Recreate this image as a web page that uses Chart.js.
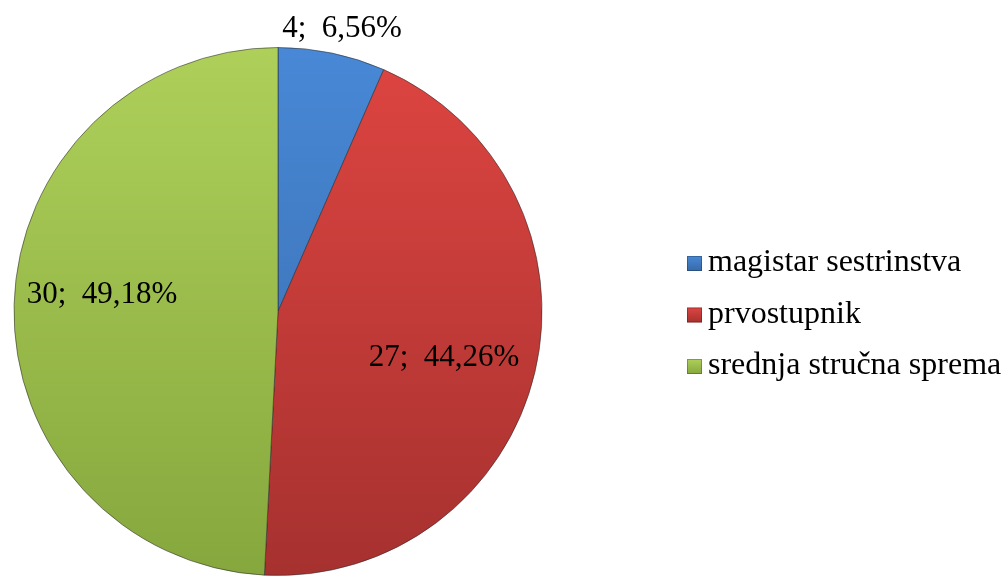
<!DOCTYPE html>
<html>
<head>
<meta charset="utf-8">
<script src="https://cdn.jsdelivr.net/npm/chart.js@4"></script>
<style>
  html, body { margin: 0; padding: 0; background: #fff; }
  #myChart { display: block; }
  .preload { position: absolute; left: -9999px; top: 0; font-size: 31px; }
</style>
</head>
<body>
<span class="preload" style="font-family: 'Liberation Serif';">magistar 4; 6,56%</span>
<span class="preload" style="font-family: 'Times New Roman';">magistar 4; 6,56%</span>
<canvas id="myChart" width="1007" height="576"></canvas>
<script>
const categories = ['magistar sestrinstva', 'prvostupnik', 'srednja stručna sprema'];
const counts = [4, 27, 30];
const percents = ['6,56%', '44,26%', '49,18%'];

// light top / dark bottom of each slice
const topColors = ['#4888d6', '#de4541', '#aed05a'];
const bottomColors = ['#376aa9', '#a6312f', '#86a73d'];

const LABEL_FONT = '31px "Times New Roman", "Liberation Serif", "DejaVu Serif", serif';
const LEGEND_FONT = '32px "Times New Roman", "Liberation Serif", "DejaVu Serif", serif';

// label spots for each slice (text centre x, baseline y)
const labelSpots = [[342, 37], [444, 366], [102, 303]];

function sliceFill(context) {
    const chart = context.chart;
    const area = chart.chartArea;
    if (!area) return topColors[context.dataIndex];
    const g = chart.ctx.createLinearGradient(0, area.top, 0, area.bottom);
    g.addColorStop(0, topColors[context.dataIndex]);
    g.addColorStop(1, bottomColors[context.dataIndex]);
    return g;
}

const extras = {
    id: 'extras',
    afterDraw(chart) {
        const ctx = chart.ctx;
        ctx.save();
        ctx.font = LABEL_FONT;
        ctx.fillStyle = '#000';
        ctx.textAlign = 'center';
        ctx.textBaseline = 'alphabetic';
        counts.forEach((c, i) => {
            ctx.fillText(c + ';  ' + percents[i], labelSpots[i][0], labelSpots[i][1]);
        });

        // legend
        ctx.font = LEGEND_FONT;
        ctx.textAlign = 'left';
        categories.forEach((name, i) => {
            const base = 271 + i * 51.5;
            const g = ctx.createLinearGradient(0, base - 15, 0, base);
            g.addColorStop(0, topColors[i]);
            g.addColorStop(1, bottomColors[i]);
            ctx.fillStyle = g;
            ctx.fillRect(687, base - 15, 15, 15);
            ctx.strokeStyle = 'rgba(0,0,0,0.25)';
            ctx.lineWidth = 1;
            ctx.strokeRect(687.5, base - 14.5, 14, 14);
            ctx.fillStyle = '#000';
            ctx.fillText(name, 708, base);
        });
        ctx.restore();
    }
};

function makeChart() {
    new Chart(document.getElementById('myChart'), {
        type: 'pie',
        data: {
            labels: categories,
            datasets: [{
                data: counts,
                backgroundColor: sliceFill,
                borderColor: 'rgba(40,40,40,0.55)',
                borderWidth: 1
            }]
        },
        options: {
            responsive: false,
            animation: false,
            layout: { padding: { left: 13, top: 47, right: 464, bottom: 0 } },
            plugins: {
                legend: { display: false },
                tooltip: { enabled: false }
            }
        },
        plugins: [extras]
    });
}

if (document.fonts && document.fonts.ready) {
    document.fonts.ready.then(makeChart);
} else {
    makeChart();
}
</script>
</body>
</html>
